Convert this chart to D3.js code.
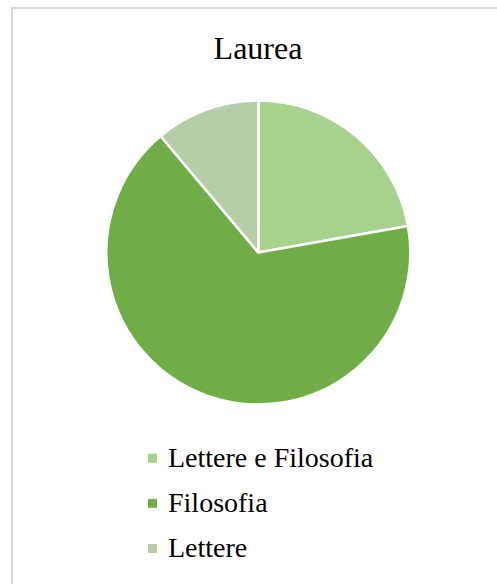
<!DOCTYPE html>
<html>
<head>
<meta charset="utf-8">
<script src="https://cdn.jsdelivr.net/npm/d3@7"></script>
</head>
<body style="margin:0">
<svg id="chart" width="497" height="584"></svg>
<script>
// Degree categories and their counts
const categories = ["Lettere e Filosofia", "Filosofia", "Lettere"];
const values = [2, 6, 1];
const colors = ["#A9D18E", "#70AD47", "#B5CEA8"];
const title = "Laurea";

const svg = d3.select("#chart");
const W = 497, H = 584;
const serif = '"Liberation Serif"';

// Chart frame
svg.append("rect")
  .attr("x", 12).attr("y", 8)
  .attr("width", W + 10).attr("height", H + 10)
  .attr("fill", "#fff")
  .attr("stroke", "#D9D9D9")
  .attr("stroke-width", 2);

// Title
svg.append("text")
  .attr("x", 258).attr("y", 58.5)
  .attr("text-anchor", "middle")
  .style("font-family", serif)
  .style("font-size", "32px")
  .attr("fill", "#000")
  .text(title);

// Pie
const cx = 258.3, cy = 252.5, r = 152;
const data = categories.map((c, i) => ({ name: c, value: values[i], color: colors[i] }));
const pie = d3.pie().value(d => d.value).sort(null);
const arc = d3.arc().innerRadius(0).outerRadius(r);

svg.append("g")
  .attr("transform", `translate(${cx},${cy})`)
  .selectAll("path")
  .data(pie(data))
  .join("path")
  .attr("d", arc)
  .attr("fill", d => d.data.color)
  .attr("stroke", "#fff")
  .attr("stroke-width", 2.5)
  .attr("stroke-linejoin", "round");

// Legend
const legend = svg.append("g").attr("transform", "translate(148,0)");
const rowY = d3.scalePoint().domain(categories).range([466.7, 557]);
const items = legend.selectAll("g").data(data).join("g")
  .attr("transform", d => `translate(0,${rowY(d.name)})`);
items.append("rect")
  .attr("x", 0).attr("y", -13)
  .attr("width", 9).attr("height", 9)
  .attr("fill", d => d.color);
items.append("text")
  .attr("x", 20).attr("y", 0)
  .style("font-family", serif)
  .style("font-size", "28px")
  .attr("fill", "#000")
  .text(d => d.name);
</script>
</body>
</html>
